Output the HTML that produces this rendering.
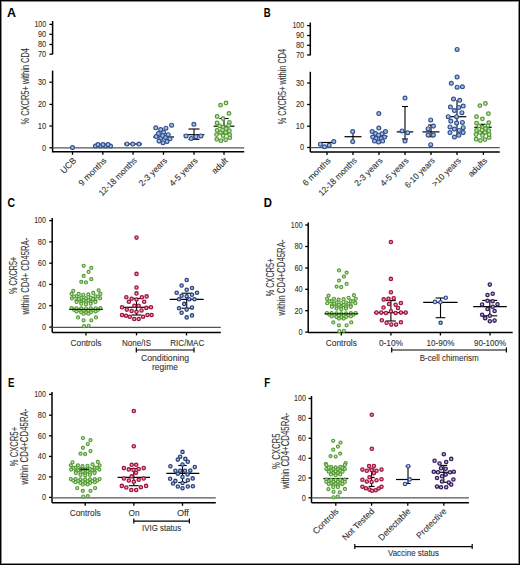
<!DOCTYPE html>
<html><head><meta charset="utf-8"><style>html,body{margin:0;padding:0;background:#fff;width:520px;height:565px;overflow:hidden}svg{display:block}</style></head><body>
<svg width="520" height="565" viewBox="0 0 520 565" font-family="Liberation Sans, sans-serif">
<rect width="520" height="565" fill="#fff"/>
<text x="7.1" y="16.6" font-size="12" fill="#000" font-weight="bold" textLength="9" lengthAdjust="spacingAndGlyphs">A</text>
<line x1="52.6" y1="21" x2="52.6" y2="54.3" stroke="#000" stroke-width="1.5"/>
<line x1="52.6" y1="70.6" x2="52.6" y2="152.4" stroke="#000" stroke-width="1.5"/>
<line x1="49.4" y1="24.4" x2="52.6" y2="24.4" stroke="#000" stroke-width="1.3"/>
<text x="46.2" y="27.2" font-size="9.6" fill="#333333" stroke="#333333" stroke-width="0.1" text-anchor="end" textLength="11.8" lengthAdjust="spacingAndGlyphs">100</text>
<line x1="49.4" y1="34.3" x2="52.6" y2="34.3" stroke="#000" stroke-width="1.3"/>
<text x="46.2" y="37.1" font-size="9.6" fill="#333333" stroke="#333333" stroke-width="0.1" text-anchor="end" textLength="8.2" lengthAdjust="spacingAndGlyphs">90</text>
<line x1="49.4" y1="44.5" x2="52.6" y2="44.5" stroke="#000" stroke-width="1.3"/>
<text x="46.2" y="47.3" font-size="9.6" fill="#333333" stroke="#333333" stroke-width="0.1" text-anchor="end" textLength="8.2" lengthAdjust="spacingAndGlyphs">80</text>
<line x1="49.4" y1="54.2" x2="52.6" y2="54.2" stroke="#000" stroke-width="1.3"/>
<text x="46.2" y="57" font-size="9.6" fill="#333333" stroke="#333333" stroke-width="0.1" text-anchor="end" textLength="8.2" lengthAdjust="spacingAndGlyphs">70</text>
<line x1="49.4" y1="82.2" x2="52.6" y2="82.2" stroke="#000" stroke-width="1.3"/>
<text x="46.2" y="85" font-size="9.6" fill="#333333" stroke="#333333" stroke-width="0.1" text-anchor="end" textLength="8.2" lengthAdjust="spacingAndGlyphs">30</text>
<line x1="49.4" y1="104.4" x2="52.6" y2="104.4" stroke="#000" stroke-width="1.3"/>
<text x="46.2" y="107.2" font-size="9.6" fill="#333333" stroke="#333333" stroke-width="0.1" text-anchor="end" textLength="8.2" lengthAdjust="spacingAndGlyphs">20</text>
<line x1="49.4" y1="126" x2="52.6" y2="126" stroke="#000" stroke-width="1.3"/>
<text x="46.2" y="128.8" font-size="9.6" fill="#333333" stroke="#333333" stroke-width="0.1" text-anchor="end" textLength="8.5" lengthAdjust="spacingAndGlyphs">10</text>
<line x1="49.4" y1="147.8" x2="52.6" y2="147.8" stroke="#000" stroke-width="1.3"/>
<text x="46.2" y="150.6" font-size="9.6" fill="#333333" stroke="#333333" stroke-width="0.1" text-anchor="end" textLength="4.1" lengthAdjust="spacingAndGlyphs">0</text>
<text x="28.5" y="86.25" font-size="10" fill="#333333" stroke="#333333" stroke-width="0.1" text-anchor="middle" textLength="76.5" lengthAdjust="spacingAndGlyphs" transform="rotate(-90 28.5 86.25)">% CXCR5+ within CD4</text>
<line x1="52.6" y1="147.8" x2="244.2" y2="147.8" stroke="#555555" stroke-width="1.25"/>
<line x1="52.6" y1="151.8" x2="244.2" y2="151.8" stroke="#000" stroke-width="1.5"/>
<line x1="72.5" y1="151.8" x2="72.5" y2="154.8" stroke="#000" stroke-width="1.3"/>
<line x1="102.8" y1="151.8" x2="102.8" y2="154.8" stroke="#000" stroke-width="1.3"/>
<line x1="133.1" y1="151.8" x2="133.1" y2="154.8" stroke="#000" stroke-width="1.3"/>
<line x1="163.5" y1="151.8" x2="163.5" y2="154.8" stroke="#000" stroke-width="1.3"/>
<line x1="194" y1="151.8" x2="194" y2="154.8" stroke="#000" stroke-width="1.3"/>
<line x1="224" y1="151.8" x2="224" y2="154.8" stroke="#000" stroke-width="1.3"/>
<text x="76.9" y="161.2" font-size="8.7" fill="#333333" stroke="#333333" stroke-width="0.1" text-anchor="end" transform="rotate(-45 76.9 161.2)">UCB</text>
<text x="107.2" y="161.2" font-size="8.7" fill="#333333" stroke="#333333" stroke-width="0.1" text-anchor="end" transform="rotate(-45 107.2 161.2)">9 months</text>
<text x="137.5" y="161.2" font-size="8.7" fill="#333333" stroke="#333333" stroke-width="0.1" text-anchor="end" textLength="50" lengthAdjust="spacingAndGlyphs" transform="rotate(-45 137.5 161.2)">12-18 months</text>
<text x="167.9" y="161.2" font-size="8.7" fill="#333333" stroke="#333333" stroke-width="0.1" text-anchor="end" transform="rotate(-45 167.9 161.2)">2-3 years</text>
<text x="198.4" y="161.2" font-size="8.7" fill="#333333" stroke="#333333" stroke-width="0.1" text-anchor="end" transform="rotate(-45 198.4 161.2)">4-5 years</text>
<text x="228.4" y="161.2" font-size="8.7" fill="#333333" stroke="#333333" stroke-width="0.1" text-anchor="end" transform="rotate(-45 228.4 161.2)">adult</text>
<line x1="93.3" y1="145.6" x2="112.3" y2="145.6" stroke="#000" stroke-width="1.2"/>
<line x1="124" y1="144" x2="142" y2="144" stroke="#000" stroke-width="1.2"/>
<line x1="153.2" y1="137" x2="174" y2="137" stroke="#000" stroke-width="1.2"/>
<line x1="194" y1="129" x2="194" y2="139.3" stroke="#000" stroke-width="1.1"/>
<line x1="188.5" y1="129" x2="199.5" y2="129" stroke="#000" stroke-width="1.1"/>
<line x1="188.5" y1="139.3" x2="199.5" y2="139.3" stroke="#000" stroke-width="1.1"/>
<line x1="183.7" y1="134.7" x2="204.3" y2="134.7" stroke="#000" stroke-width="1.2"/>
<line x1="224" y1="118.5" x2="224" y2="134" stroke="#000" stroke-width="1.1"/>
<line x1="219.4" y1="118.5" x2="228.6" y2="118.5" stroke="#000" stroke-width="1.1"/>
<line x1="219.4" y1="134" x2="228.6" y2="134" stroke="#000" stroke-width="1.1"/>
<line x1="213.6" y1="126.2" x2="234.4" y2="126.2" stroke="#000" stroke-width="1.2"/>
<text x="263.8" y="16.7" font-size="12" fill="#000" font-weight="bold" textLength="6.9" lengthAdjust="spacingAndGlyphs">B</text>
<line x1="310.3" y1="22.5" x2="310.3" y2="55.3" stroke="#000" stroke-width="1.5"/>
<line x1="310.3" y1="71.8" x2="310.3" y2="152" stroke="#000" stroke-width="1.5"/>
<line x1="307.1" y1="25.6" x2="310.3" y2="25.6" stroke="#000" stroke-width="1.3"/>
<text x="304.2" y="28.4" font-size="9.6" fill="#333333" stroke="#333333" stroke-width="0.1" text-anchor="end" textLength="11.8" lengthAdjust="spacingAndGlyphs">100</text>
<line x1="307.1" y1="35.5" x2="310.3" y2="35.5" stroke="#000" stroke-width="1.3"/>
<text x="304.2" y="38.3" font-size="9.6" fill="#333333" stroke="#333333" stroke-width="0.1" text-anchor="end" textLength="8.2" lengthAdjust="spacingAndGlyphs">90</text>
<line x1="307.1" y1="45.3" x2="310.3" y2="45.3" stroke="#000" stroke-width="1.3"/>
<text x="304.2" y="48.1" font-size="9.6" fill="#333333" stroke="#333333" stroke-width="0.1" text-anchor="end" textLength="8.2" lengthAdjust="spacingAndGlyphs">80</text>
<line x1="307.1" y1="55" x2="310.3" y2="55" stroke="#000" stroke-width="1.3"/>
<text x="304.2" y="57.8" font-size="9.6" fill="#333333" stroke="#333333" stroke-width="0.1" text-anchor="end" textLength="8.2" lengthAdjust="spacingAndGlyphs">70</text>
<line x1="307.1" y1="83" x2="310.3" y2="83" stroke="#000" stroke-width="1.3"/>
<text x="304.2" y="85.8" font-size="9.6" fill="#333333" stroke="#333333" stroke-width="0.1" text-anchor="end" textLength="8.2" lengthAdjust="spacingAndGlyphs">30</text>
<line x1="307.1" y1="104.5" x2="310.3" y2="104.5" stroke="#000" stroke-width="1.3"/>
<text x="304.2" y="107.3" font-size="9.6" fill="#333333" stroke="#333333" stroke-width="0.1" text-anchor="end" textLength="8.2" lengthAdjust="spacingAndGlyphs">20</text>
<line x1="307.1" y1="126.2" x2="310.3" y2="126.2" stroke="#000" stroke-width="1.3"/>
<text x="304.2" y="129" font-size="9.6" fill="#333333" stroke="#333333" stroke-width="0.1" text-anchor="end" textLength="8.5" lengthAdjust="spacingAndGlyphs">10</text>
<line x1="307.1" y1="147.5" x2="310.3" y2="147.5" stroke="#000" stroke-width="1.3"/>
<text x="304.2" y="150.3" font-size="9.6" fill="#333333" stroke="#333333" stroke-width="0.1" text-anchor="end" textLength="4.1" lengthAdjust="spacingAndGlyphs">0</text>
<text x="286.4" y="86.6" font-size="10" fill="#333333" stroke="#333333" stroke-width="0.1" text-anchor="middle" textLength="75.5" lengthAdjust="spacingAndGlyphs" transform="rotate(-90 286.4 86.6)">% CXCR5+ within CD4</text>
<line x1="310.3" y1="147.5" x2="499.8" y2="147.5" stroke="#555555" stroke-width="1.25"/>
<line x1="310.3" y1="151.9" x2="499.8" y2="151.9" stroke="#000" stroke-width="1.5"/>
<line x1="327" y1="151.9" x2="327" y2="154.9" stroke="#000" stroke-width="1.3"/>
<line x1="353" y1="151.9" x2="353" y2="154.9" stroke="#000" stroke-width="1.3"/>
<line x1="379" y1="151.9" x2="379" y2="154.9" stroke="#000" stroke-width="1.3"/>
<line x1="405" y1="151.9" x2="405" y2="154.9" stroke="#000" stroke-width="1.3"/>
<line x1="431" y1="151.9" x2="431" y2="154.9" stroke="#000" stroke-width="1.3"/>
<line x1="457" y1="151.9" x2="457" y2="154.9" stroke="#000" stroke-width="1.3"/>
<line x1="483.4" y1="151.9" x2="483.4" y2="154.9" stroke="#000" stroke-width="1.3"/>
<text x="331.4" y="161.2" font-size="8.7" fill="#333333" stroke="#333333" stroke-width="0.1" text-anchor="end" transform="rotate(-45 331.4 161.2)">6 months</text>
<text x="357.4" y="161.2" font-size="8.7" fill="#333333" stroke="#333333" stroke-width="0.1" text-anchor="end" textLength="50" lengthAdjust="spacingAndGlyphs" transform="rotate(-45 357.4 161.2)">12-18 months</text>
<text x="383.4" y="161.2" font-size="8.7" fill="#333333" stroke="#333333" stroke-width="0.1" text-anchor="end" transform="rotate(-45 383.4 161.2)">2-3 years</text>
<text x="409.4" y="161.2" font-size="8.7" fill="#333333" stroke="#333333" stroke-width="0.1" text-anchor="end" transform="rotate(-45 409.4 161.2)">4-5 years</text>
<text x="435.4" y="161.2" font-size="8.7" fill="#333333" stroke="#333333" stroke-width="0.1" text-anchor="end" textLength="38.5" lengthAdjust="spacingAndGlyphs" transform="rotate(-45 435.4 161.2)">6-10 years</text>
<text x="461.4" y="161.2" font-size="8.7" fill="#333333" stroke="#333333" stroke-width="0.1" text-anchor="end" textLength="36.8" lengthAdjust="spacingAndGlyphs" transform="rotate(-45 461.4 161.2)">&gt;10 years</text>
<text x="487.8" y="161.2" font-size="8.7" fill="#333333" stroke="#333333" stroke-width="0.1" text-anchor="end" transform="rotate(-45 487.8 161.2)">adults</text>
<line x1="321" y1="142.5" x2="333" y2="142.5" stroke="#000" stroke-width="1.2"/>
<line x1="353" y1="131.5" x2="353" y2="141.6" stroke="#000" stroke-width="1.1"/>
<line x1="352.99" y1="131.5" x2="353.01" y2="131.5" stroke="#000" stroke-width="1.1"/>
<line x1="352.99" y1="141.6" x2="353.01" y2="141.6" stroke="#000" stroke-width="1.1"/>
<line x1="344.5" y1="136.7" x2="361.5" y2="136.7" stroke="#000" stroke-width="1.2"/>
<line x1="370.5" y1="136.3" x2="387.5" y2="136.3" stroke="#000" stroke-width="1.2"/>
<line x1="405" y1="106.5" x2="405" y2="139" stroke="#000" stroke-width="1.1"/>
<line x1="402" y1="106.5" x2="408" y2="106.5" stroke="#000" stroke-width="1.1"/>
<line x1="402" y1="139" x2="408" y2="139" stroke="#000" stroke-width="1.1"/>
<line x1="396.7" y1="131.9" x2="413.3" y2="131.9" stroke="#000" stroke-width="1.2"/>
<line x1="431" y1="125" x2="431" y2="136.7" stroke="#000" stroke-width="1.1"/>
<line x1="428" y1="125" x2="434" y2="125" stroke="#000" stroke-width="1.1"/>
<line x1="428" y1="136.7" x2="434" y2="136.7" stroke="#000" stroke-width="1.1"/>
<line x1="422.5" y1="131.9" x2="439.5" y2="131.9" stroke="#000" stroke-width="1.2"/>
<line x1="457" y1="100" x2="457" y2="136" stroke="#000" stroke-width="1.1"/>
<line x1="447.7" y1="116.7" x2="466.3" y2="116.7" stroke="#000" stroke-width="1.2"/>
<line x1="483" y1="124.3" x2="483" y2="134" stroke="#000" stroke-width="1.1"/>
<line x1="480.5" y1="124.3" x2="485.5" y2="124.3" stroke="#000" stroke-width="1.1"/>
<line x1="480.5" y1="134" x2="485.5" y2="134" stroke="#000" stroke-width="1.1"/>
<line x1="474.3" y1="127.3" x2="491.7" y2="127.3" stroke="#000" stroke-width="1.2"/>
<text x="7.5" y="206.6" font-size="12" fill="#000" font-weight="bold" textLength="7.5" lengthAdjust="spacingAndGlyphs">C</text>
<line x1="52.2" y1="218" x2="52.2" y2="332.3" stroke="#000" stroke-width="1.5"/>
<line x1="49.2" y1="220.6" x2="52.2" y2="220.6" stroke="#000" stroke-width="1.3"/>
<text x="46" y="223.4" font-size="9.6" fill="#333333" stroke="#333333" stroke-width="0.1" text-anchor="end" textLength="11.8" lengthAdjust="spacingAndGlyphs">100</text>
<line x1="49.2" y1="241.9" x2="52.2" y2="241.9" stroke="#000" stroke-width="1.3"/>
<text x="46" y="244.7" font-size="9.6" fill="#333333" stroke="#333333" stroke-width="0.1" text-anchor="end" textLength="8.2" lengthAdjust="spacingAndGlyphs">80</text>
<line x1="49.2" y1="263.2" x2="52.2" y2="263.2" stroke="#000" stroke-width="1.3"/>
<text x="46" y="266" font-size="9.6" fill="#333333" stroke="#333333" stroke-width="0.1" text-anchor="end" textLength="8.2" lengthAdjust="spacingAndGlyphs">60</text>
<line x1="49.2" y1="284.4" x2="52.2" y2="284.4" stroke="#000" stroke-width="1.3"/>
<text x="46" y="287.2" font-size="9.6" fill="#333333" stroke="#333333" stroke-width="0.1" text-anchor="end" textLength="8.2" lengthAdjust="spacingAndGlyphs">40</text>
<line x1="49.2" y1="305.7" x2="52.2" y2="305.7" stroke="#000" stroke-width="1.3"/>
<text x="46" y="308.5" font-size="9.6" fill="#333333" stroke="#333333" stroke-width="0.1" text-anchor="end" textLength="8.2" lengthAdjust="spacingAndGlyphs">20</text>
<line x1="49.2" y1="327.1" x2="52.2" y2="327.1" stroke="#000" stroke-width="1.3"/>
<text x="46" y="329.9" font-size="9.6" fill="#333333" stroke="#333333" stroke-width="0.1" text-anchor="end" textLength="4.1" lengthAdjust="spacingAndGlyphs">0</text>
<text x="17.1" y="275.4" font-size="10" fill="#333333" stroke="#333333" stroke-width="0.1" text-anchor="middle" textLength="37" lengthAdjust="spacingAndGlyphs" transform="rotate(-90 17.1 275.4)">% CXCR5+</text>
<text x="28.8" y="276.2" font-size="10" fill="#333333" stroke="#333333" stroke-width="0.1" text-anchor="middle" textLength="76.8" lengthAdjust="spacingAndGlyphs" transform="rotate(-90 28.8 276.2)">within CD4+ CD45RA-</text>
<line x1="52.2" y1="327.3" x2="220.8" y2="327.3" stroke="#555555" stroke-width="1.25"/>
<line x1="52.2" y1="332.4" x2="220.8" y2="332.4" stroke="#000" stroke-width="1.5"/>
<line x1="86" y1="332.4" x2="86" y2="335.4" stroke="#000" stroke-width="1.3"/>
<line x1="136.5" y1="332.4" x2="136.5" y2="335.4" stroke="#000" stroke-width="1.3"/>
<line x1="186.5" y1="332.4" x2="186.5" y2="335.4" stroke="#000" stroke-width="1.3"/>
<text x="86" y="345.6" font-size="8.8" fill="#333333" stroke="#333333" stroke-width="0.1" text-anchor="middle" textLength="31" lengthAdjust="spacingAndGlyphs">Controls</text>
<text x="136.5" y="345.8" font-size="8.8" fill="#333333" stroke="#333333" stroke-width="0.1" text-anchor="middle" textLength="29" lengthAdjust="spacingAndGlyphs">None/IS</text>
<text x="187.3" y="345.8" font-size="8.8" fill="#333333" stroke="#333333" stroke-width="0.1" text-anchor="middle" textLength="34" lengthAdjust="spacingAndGlyphs">RIC/MAC</text>
<line x1="136.3" y1="350" x2="194" y2="350" stroke="#000" stroke-width="1.2"/>
<line x1="136.3" y1="347.5" x2="136.3" y2="352.5" stroke="#000" stroke-width="1.2"/>
<line x1="194" y1="347.5" x2="194" y2="352.5" stroke="#000" stroke-width="1.2"/>
<text x="165" y="361.1" font-size="8.8" fill="#333333" stroke="#333333" stroke-width="0.1" text-anchor="middle" textLength="48" lengthAdjust="spacingAndGlyphs">Conditioning</text>
<text x="165" y="370.2" font-size="8.8" fill="#333333" stroke="#333333" stroke-width="0.1" text-anchor="middle" textLength="26" lengthAdjust="spacingAndGlyphs">regime</text>
<line x1="136.5" y1="298.5" x2="136.5" y2="315" stroke="#000" stroke-width="1.1"/>
<line x1="131.5" y1="298.5" x2="141.5" y2="298.5" stroke="#000" stroke-width="1.1"/>
<line x1="131.5" y1="315" x2="141.5" y2="315" stroke="#000" stroke-width="1.1"/>
<line x1="123.2" y1="307.3" x2="149.8" y2="307.3" stroke="#000" stroke-width="1.2"/>
<line x1="186.7" y1="293.2" x2="186.7" y2="308.2" stroke="#000" stroke-width="1.1"/>
<line x1="181.5" y1="293.2" x2="191.9" y2="293.2" stroke="#000" stroke-width="1.1"/>
<line x1="181.5" y1="308.2" x2="191.9" y2="308.2" stroke="#000" stroke-width="1.1"/>
<line x1="169.7" y1="299.3" x2="203.7" y2="299.3" stroke="#000" stroke-width="1.2"/>
<text x="263.7" y="206.6" font-size="12" fill="#000" font-weight="bold" textLength="8.2" lengthAdjust="spacingAndGlyphs">D</text>
<line x1="308.2" y1="222.5" x2="308.2" y2="332.5" stroke="#000" stroke-width="1.5"/>
<line x1="305.2" y1="225" x2="308.2" y2="225" stroke="#000" stroke-width="1.3"/>
<text x="302.6" y="227.8" font-size="9.6" fill="#333333" stroke="#333333" stroke-width="0.1" text-anchor="end" textLength="11.8" lengthAdjust="spacingAndGlyphs">100</text>
<line x1="305.2" y1="246.5" x2="308.2" y2="246.5" stroke="#000" stroke-width="1.3"/>
<text x="302.6" y="249.3" font-size="9.6" fill="#333333" stroke="#333333" stroke-width="0.1" text-anchor="end" textLength="8.2" lengthAdjust="spacingAndGlyphs">80</text>
<line x1="305.2" y1="268" x2="308.2" y2="268" stroke="#000" stroke-width="1.3"/>
<text x="302.6" y="270.8" font-size="9.6" fill="#333333" stroke="#333333" stroke-width="0.1" text-anchor="end" textLength="8.2" lengthAdjust="spacingAndGlyphs">60</text>
<line x1="305.2" y1="289.3" x2="308.2" y2="289.3" stroke="#000" stroke-width="1.3"/>
<text x="302.6" y="292.1" font-size="9.6" fill="#333333" stroke="#333333" stroke-width="0.1" text-anchor="end" textLength="8.2" lengthAdjust="spacingAndGlyphs">40</text>
<line x1="305.2" y1="310.7" x2="308.2" y2="310.7" stroke="#000" stroke-width="1.3"/>
<text x="302.6" y="313.5" font-size="9.6" fill="#333333" stroke="#333333" stroke-width="0.1" text-anchor="end" textLength="8.2" lengthAdjust="spacingAndGlyphs">20</text>
<line x1="305.2" y1="332.1" x2="308.2" y2="332.1" stroke="#000" stroke-width="1.3"/>
<text x="302.6" y="334.9" font-size="9.6" fill="#333333" stroke="#333333" stroke-width="0.1" text-anchor="end" textLength="4.1" lengthAdjust="spacingAndGlyphs">0</text>
<text x="273.6" y="277.4" font-size="10" fill="#333333" stroke="#333333" stroke-width="0.1" text-anchor="middle" textLength="37.8" lengthAdjust="spacingAndGlyphs" transform="rotate(-90 273.6 277.4)">% CXCR5+</text>
<text x="284.8" y="277.4" font-size="10" fill="#333333" stroke="#333333" stroke-width="0.1" text-anchor="middle" textLength="76" lengthAdjust="spacingAndGlyphs" transform="rotate(-90 284.8 277.4)">within CD4+CD45RA-</text>
<line x1="308.2" y1="332.5" x2="512.7" y2="332.5" stroke="#000" stroke-width="1.5"/>
<line x1="341.3" y1="332.5" x2="341.3" y2="335.5" stroke="#000" stroke-width="1.3"/>
<line x1="390.9" y1="332.5" x2="390.9" y2="335.5" stroke="#000" stroke-width="1.3"/>
<line x1="440.4" y1="332.5" x2="440.4" y2="335.5" stroke="#000" stroke-width="1.3"/>
<line x1="490" y1="332.5" x2="490" y2="335.5" stroke="#000" stroke-width="1.3"/>
<text x="341.3" y="345.5" font-size="8.8" fill="#333333" stroke="#333333" stroke-width="0.1" text-anchor="middle" textLength="31" lengthAdjust="spacingAndGlyphs">Controls</text>
<text x="390.9" y="345.6" font-size="8.8" fill="#333333" stroke="#333333" stroke-width="0.1" text-anchor="middle" textLength="24" lengthAdjust="spacingAndGlyphs">0-10%</text>
<text x="440.4" y="345.6" font-size="8.8" fill="#333333" stroke="#333333" stroke-width="0.1" text-anchor="middle" textLength="28" lengthAdjust="spacingAndGlyphs">10-90%</text>
<text x="490" y="345.6" font-size="8.8" fill="#333333" stroke="#333333" stroke-width="0.1" text-anchor="middle" textLength="32" lengthAdjust="spacingAndGlyphs">90-100%</text>
<line x1="391.7" y1="350" x2="506.4" y2="350" stroke="#000" stroke-width="1.2"/>
<line x1="391.7" y1="347.5" x2="391.7" y2="352.5" stroke="#000" stroke-width="1.2"/>
<line x1="506.4" y1="347.5" x2="506.4" y2="352.5" stroke="#000" stroke-width="1.2"/>
<text x="449.2" y="360.6" font-size="8.8" fill="#333333" stroke="#333333" stroke-width="0.1" text-anchor="middle" textLength="59" lengthAdjust="spacingAndGlyphs">B-cell chimerism</text>
<line x1="390.9" y1="300.6" x2="390.9" y2="321" stroke="#000" stroke-width="1.1"/>
<line x1="385.9" y1="300.6" x2="395.9" y2="300.6" stroke="#000" stroke-width="1.1"/>
<line x1="385.9" y1="321" x2="395.9" y2="321" stroke="#000" stroke-width="1.1"/>
<line x1="373.9" y1="312.6" x2="407.9" y2="312.6" stroke="#000" stroke-width="1.2"/>
<line x1="440.5" y1="298" x2="440.5" y2="317.7" stroke="#000" stroke-width="1.1"/>
<line x1="435.7" y1="298" x2="445.3" y2="298" stroke="#000" stroke-width="1.1"/>
<line x1="435.7" y1="317.7" x2="445.3" y2="317.7" stroke="#000" stroke-width="1.1"/>
<line x1="423.2" y1="302.3" x2="457.6" y2="302.3" stroke="#000" stroke-width="1.2"/>
<line x1="489.8" y1="300.4" x2="489.8" y2="315.8" stroke="#000" stroke-width="1.1"/>
<line x1="482.3" y1="300.4" x2="497.3" y2="300.4" stroke="#000" stroke-width="1.1"/>
<line x1="482.3" y1="315.8" x2="497.3" y2="315.8" stroke="#000" stroke-width="1.1"/>
<line x1="473.2" y1="306.7" x2="506.8" y2="306.7" stroke="#000" stroke-width="1.2"/>
<text x="8" y="387.4" font-size="12" fill="#000" font-weight="bold" textLength="6.4" lengthAdjust="spacingAndGlyphs">E</text>
<line x1="52" y1="392" x2="52" y2="502.7" stroke="#000" stroke-width="1.5"/>
<line x1="49" y1="394.4" x2="52" y2="394.4" stroke="#000" stroke-width="1.3"/>
<text x="46" y="397.2" font-size="9.6" fill="#333333" stroke="#333333" stroke-width="0.1" text-anchor="end" textLength="11.8" lengthAdjust="spacingAndGlyphs">100</text>
<line x1="49" y1="415.2" x2="52" y2="415.2" stroke="#000" stroke-width="1.3"/>
<text x="46" y="418" font-size="9.6" fill="#333333" stroke="#333333" stroke-width="0.1" text-anchor="end" textLength="8.2" lengthAdjust="spacingAndGlyphs">80</text>
<line x1="49" y1="435.8" x2="52" y2="435.8" stroke="#000" stroke-width="1.3"/>
<text x="46" y="438.6" font-size="9.6" fill="#333333" stroke="#333333" stroke-width="0.1" text-anchor="end" textLength="8.2" lengthAdjust="spacingAndGlyphs">60</text>
<line x1="49" y1="456.4" x2="52" y2="456.4" stroke="#000" stroke-width="1.3"/>
<text x="46" y="459.2" font-size="9.6" fill="#333333" stroke="#333333" stroke-width="0.1" text-anchor="end" textLength="8.2" lengthAdjust="spacingAndGlyphs">40</text>
<line x1="49" y1="476.9" x2="52" y2="476.9" stroke="#000" stroke-width="1.3"/>
<text x="46" y="479.7" font-size="9.6" fill="#333333" stroke="#333333" stroke-width="0.1" text-anchor="end" textLength="8.2" lengthAdjust="spacingAndGlyphs">20</text>
<line x1="49" y1="497.4" x2="52" y2="497.4" stroke="#000" stroke-width="1.3"/>
<text x="46" y="500.2" font-size="9.6" fill="#333333" stroke="#333333" stroke-width="0.1" text-anchor="end" textLength="4.1" lengthAdjust="spacingAndGlyphs">0</text>
<text x="17.6" y="446.6" font-size="10" fill="#333333" stroke="#333333" stroke-width="0.1" text-anchor="middle" textLength="39.4" lengthAdjust="spacingAndGlyphs" transform="rotate(-90 17.6 446.6)">% CXCR5+</text>
<text x="28.5" y="446.6" font-size="10" fill="#333333" stroke="#333333" stroke-width="0.1" text-anchor="middle" textLength="76" lengthAdjust="spacingAndGlyphs" transform="rotate(-90 28.5 446.6)">within CD4+CD45RA-</text>
<line x1="52" y1="497.8" x2="215.8" y2="497.8" stroke="#555555" stroke-width="1.25"/>
<line x1="52" y1="502.8" x2="215.8" y2="502.8" stroke="#000" stroke-width="1.5"/>
<line x1="85.2" y1="502.8" x2="85.2" y2="505.8" stroke="#000" stroke-width="1.3"/>
<line x1="133.8" y1="502.8" x2="133.8" y2="505.8" stroke="#000" stroke-width="1.3"/>
<line x1="182.5" y1="502.8" x2="182.5" y2="505.8" stroke="#000" stroke-width="1.3"/>
<text x="85.2" y="515.6" font-size="8.8" fill="#333333" stroke="#333333" stroke-width="0.1" text-anchor="middle" textLength="31" lengthAdjust="spacingAndGlyphs">Controls</text>
<text x="134" y="515.6" font-size="8.8" fill="#333333" stroke="#333333" stroke-width="0.1" text-anchor="middle" textLength="11" lengthAdjust="spacingAndGlyphs">On</text>
<text x="182.9" y="515.6" font-size="8.8" fill="#333333" stroke="#333333" stroke-width="0.1" text-anchor="middle" textLength="12" lengthAdjust="spacingAndGlyphs">Off</text>
<line x1="133.8" y1="521.1" x2="189.4" y2="521.1" stroke="#000" stroke-width="1.2"/>
<line x1="133.8" y1="518.6" x2="133.8" y2="523.6" stroke="#000" stroke-width="1.2"/>
<line x1="189.4" y1="518.6" x2="189.4" y2="523.6" stroke="#000" stroke-width="1.2"/>
<text x="161.6" y="530.7" font-size="8.8" fill="#333333" stroke="#333333" stroke-width="0.1" text-anchor="middle" textLength="39" lengthAdjust="spacingAndGlyphs">IVIG status</text>
<line x1="133.8" y1="468.6" x2="133.8" y2="485.7" stroke="#000" stroke-width="1.1"/>
<line x1="128.8" y1="468.6" x2="138.8" y2="468.6" stroke="#000" stroke-width="1.1"/>
<line x1="128.8" y1="485.7" x2="138.8" y2="485.7" stroke="#000" stroke-width="1.1"/>
<line x1="117.6" y1="477.3" x2="150" y2="477.3" stroke="#000" stroke-width="1.2"/>
<line x1="182.5" y1="465.5" x2="182.5" y2="482.5" stroke="#000" stroke-width="1.1"/>
<line x1="178.2" y1="465.5" x2="186.8" y2="465.5" stroke="#000" stroke-width="1.1"/>
<line x1="178.2" y1="482.5" x2="186.8" y2="482.5" stroke="#000" stroke-width="1.1"/>
<line x1="166.3" y1="473.4" x2="199.3" y2="473.4" stroke="#000" stroke-width="1.2"/>
<text x="264.2" y="387.4" font-size="12" fill="#000" font-weight="bold" textLength="5.9" lengthAdjust="spacingAndGlyphs">F</text>
<line x1="311.5" y1="396" x2="311.5" y2="502.7" stroke="#000" stroke-width="1.5"/>
<line x1="308.5" y1="398.5" x2="311.5" y2="398.5" stroke="#000" stroke-width="1.3"/>
<text x="305.9" y="401.3" font-size="9.6" fill="#333333" stroke="#333333" stroke-width="0.1" text-anchor="end" textLength="11.8" lengthAdjust="spacingAndGlyphs">100</text>
<line x1="308.5" y1="418.4" x2="311.5" y2="418.4" stroke="#000" stroke-width="1.3"/>
<text x="305.9" y="421.2" font-size="9.6" fill="#333333" stroke="#333333" stroke-width="0.1" text-anchor="end" textLength="8.2" lengthAdjust="spacingAndGlyphs">80</text>
<line x1="308.5" y1="438.3" x2="311.5" y2="438.3" stroke="#000" stroke-width="1.3"/>
<text x="305.9" y="441.1" font-size="9.6" fill="#333333" stroke="#333333" stroke-width="0.1" text-anchor="end" textLength="8.2" lengthAdjust="spacingAndGlyphs">60</text>
<line x1="308.5" y1="458.3" x2="311.5" y2="458.3" stroke="#000" stroke-width="1.3"/>
<text x="305.9" y="461.1" font-size="9.6" fill="#333333" stroke="#333333" stroke-width="0.1" text-anchor="end" textLength="8.2" lengthAdjust="spacingAndGlyphs">40</text>
<line x1="308.5" y1="478" x2="311.5" y2="478" stroke="#000" stroke-width="1.3"/>
<text x="305.9" y="480.8" font-size="9.6" fill="#333333" stroke="#333333" stroke-width="0.1" text-anchor="end" textLength="8.2" lengthAdjust="spacingAndGlyphs">20</text>
<line x1="308.5" y1="497.8" x2="311.5" y2="497.8" stroke="#000" stroke-width="1.3"/>
<text x="305.9" y="500.6" font-size="9.6" fill="#333333" stroke="#333333" stroke-width="0.1" text-anchor="end" textLength="4.1" lengthAdjust="spacingAndGlyphs">0</text>
<text x="280" y="451.2" font-size="10" fill="#333333" stroke="#333333" stroke-width="0.1" text-anchor="middle" textLength="35.4" lengthAdjust="spacingAndGlyphs" transform="rotate(-90 280 451.2)">% CXCR5</text>
<text x="289.3" y="450.8" font-size="10" fill="#333333" stroke="#333333" stroke-width="0.1" text-anchor="middle" textLength="76" lengthAdjust="spacingAndGlyphs" transform="rotate(-90 289.3 450.8)">within CD4+CD45RA-</text>
<line x1="311.5" y1="497.9" x2="468.9" y2="497.9" stroke="#555555" stroke-width="1.25"/>
<line x1="311.5" y1="502.7" x2="468.9" y2="502.7" stroke="#000" stroke-width="1.5"/>
<line x1="335.8" y1="502.7" x2="335.8" y2="505.7" stroke="#000" stroke-width="1.3"/>
<line x1="371.6" y1="502.7" x2="371.6" y2="505.7" stroke="#000" stroke-width="1.3"/>
<line x1="407.8" y1="502.7" x2="407.8" y2="505.7" stroke="#000" stroke-width="1.3"/>
<line x1="443.8" y1="502.7" x2="443.8" y2="505.7" stroke="#000" stroke-width="1.3"/>
<text x="339.1" y="511.8" font-size="8.7" fill="#333333" stroke="#333333" stroke-width="0.1" text-anchor="end" transform="rotate(-45 339.1 511.8)">Controls</text>
<text x="374.9" y="511.8" font-size="8.7" fill="#333333" stroke="#333333" stroke-width="0.1" text-anchor="end" transform="rotate(-45 374.9 511.8)">Not Tested</text>
<text x="411.1" y="511.8" font-size="8.7" fill="#333333" stroke="#333333" stroke-width="0.1" text-anchor="end" transform="rotate(-45 411.1 511.8)">Detectable</text>
<text x="447.1" y="511.8" font-size="8.7" fill="#333333" stroke="#333333" stroke-width="0.1" text-anchor="end" transform="rotate(-45 447.1 511.8)">Protective</text>
<line x1="354.8" y1="546.6" x2="472.2" y2="546.6" stroke="#000" stroke-width="1.2"/>
<line x1="354.8" y1="544.1" x2="354.8" y2="549.1" stroke="#000" stroke-width="1.2"/>
<line x1="472.2" y1="544.1" x2="472.2" y2="549.1" stroke="#000" stroke-width="1.2"/>
<text x="413.5" y="556.1" font-size="8.8" fill="#333333" stroke="#333333" stroke-width="0.1" text-anchor="middle" textLength="51" lengthAdjust="spacingAndGlyphs">Vaccine status</text>
<line x1="323.3" y1="478.5" x2="348.3" y2="478.5" stroke="#000" stroke-width="1.2"/>
<line x1="371.6" y1="469" x2="371.6" y2="486.4" stroke="#000" stroke-width="1.1"/>
<line x1="368.6" y1="469" x2="374.6" y2="469" stroke="#000" stroke-width="1.1"/>
<line x1="368.6" y1="486.4" x2="374.6" y2="486.4" stroke="#000" stroke-width="1.1"/>
<line x1="368.6" y1="477.5" x2="374.6" y2="477.5" stroke="#000" stroke-width="1.2"/>
<line x1="408" y1="466.2" x2="408" y2="483.5" stroke="#000" stroke-width="1.1"/>
<line x1="405.5" y1="466.2" x2="410.5" y2="466.2" stroke="#000" stroke-width="1.1"/>
<line x1="405.5" y1="483.5" x2="410.5" y2="483.5" stroke="#000" stroke-width="1.1"/>
<line x1="396" y1="479.5" x2="420" y2="479.5" stroke="#000" stroke-width="1.2"/>
<line x1="443.8" y1="465.4" x2="443.8" y2="482.3" stroke="#000" stroke-width="1.1"/>
<line x1="440.3" y1="465.4" x2="447.3" y2="465.4" stroke="#000" stroke-width="1.1"/>
<line x1="440.3" y1="482.3" x2="447.3" y2="482.3" stroke="#000" stroke-width="1.1"/>
<line x1="431.8" y1="472.3" x2="455.8" y2="472.3" stroke="#000" stroke-width="1.2"/>
<g fill="#a6bce6" stroke="#30508c" stroke-width="1.15"><circle cx="72.5" cy="147.6" r="1.95"/></g>
<g fill="#a6bce6" stroke="#30508c" stroke-width="1.15"><circle cx="95.5" cy="146" r="1.95"/><circle cx="100.5" cy="146" r="1.95"/><circle cx="105.5" cy="146" r="1.95"/><circle cx="110.5" cy="146" r="1.95"/><circle cx="98" cy="144.6" r="1.95"/><circle cx="103" cy="144.6" r="1.95"/><circle cx="108" cy="144.6" r="1.95"/></g>
<g fill="#a6bce6" stroke="#30508c" stroke-width="1.15"><circle cx="127" cy="143.9" r="1.95"/><circle cx="132.8" cy="144" r="1.95"/><circle cx="138.9" cy="144" r="1.95"/></g>
<g fill="#a6bce6" stroke="#30508c" stroke-width="1.15"><circle cx="171.6" cy="125.2" r="1.95"/><circle cx="155.8" cy="127.8" r="1.95"/><circle cx="165.9" cy="128.2" r="1.95"/><circle cx="160.7" cy="129.5" r="1.95"/><circle cx="163.6" cy="132.4" r="1.95"/><circle cx="158.4" cy="133.6" r="1.95"/><circle cx="168.2" cy="134.7" r="1.95"/><circle cx="156.1" cy="136.5" r="1.95"/><circle cx="165.3" cy="137.6" r="1.95"/><circle cx="160.7" cy="138.2" r="1.95"/><circle cx="169.9" cy="138.8" r="1.95"/><circle cx="159" cy="141.1" r="1.95"/><circle cx="167" cy="141.6" r="1.95"/><circle cx="163" cy="142.8" r="1.95"/><circle cx="162.5" cy="135.5" r="1.95"/></g>
<g fill="#a6bce6" stroke="#30508c" stroke-width="1.15"><circle cx="193.9" cy="124.3" r="1.95"/><circle cx="186" cy="135.9" r="1.95"/><circle cx="195.9" cy="136.7" r="1.95"/><circle cx="201" cy="135.9" r="1.95"/><circle cx="191.3" cy="138.5" r="1.95"/></g>
<g fill="#c6e8aa" stroke="#549a38" stroke-width="1.25"><circle cx="220.5" cy="105.18" r="1.8"/><circle cx="226" cy="103.04" r="1.8"/><circle cx="229" cy="113.42" r="1.8"/><circle cx="217.1" cy="116.47" r="1.8"/><circle cx="223" cy="118.61" r="1.8"/><circle cx="217.1" cy="122.98" r="1.8"/><circle cx="229.4" cy="122.47" r="1.8"/><circle cx="219.6" cy="125.93" r="1.8"/><circle cx="223" cy="127.25" r="1.8"/><circle cx="226" cy="128.57" r="1.8"/><circle cx="228.6" cy="125.52" r="1.8"/><circle cx="217.1" cy="130.3" r="1.8"/><circle cx="220.5" cy="132.44" r="1.8"/><circle cx="225.6" cy="132.44" r="1.8"/><circle cx="229.4" cy="130.71" r="1.8"/><circle cx="222.6" cy="129.9" r="1.8"/><circle cx="216.7" cy="139.36" r="1.8"/><circle cx="220.9" cy="140.68" r="1.8"/><circle cx="225.6" cy="139.76" r="1.8"/><circle cx="229.8" cy="137.63" r="1.8"/><circle cx="216.6" cy="134.58" r="1.8"/><circle cx="229.6" cy="134.58" r="1.8"/><circle cx="223.1" cy="135.59" r="1.8"/></g>
<g fill="#a6bce6" stroke="#30508c" stroke-width="1.15"><circle cx="320.4" cy="144.2" r="1.95"/><circle cx="324.5" cy="146.8" r="1.95"/><circle cx="329.2" cy="145.3" r="1.95"/><circle cx="333.8" cy="141.6" r="1.95"/></g>
<g fill="#a6bce6" stroke="#30508c" stroke-width="1.15"><circle cx="352.7" cy="131.5" r="1.95"/><circle cx="352.7" cy="141.6" r="1.95"/></g>
<g fill="#a6bce6" stroke="#30508c" stroke-width="1.15"><circle cx="378.8" cy="113.5" r="1.95"/><circle cx="378.8" cy="128" r="1.95"/><circle cx="372.2" cy="131.5" r="1.95"/><circle cx="385.5" cy="131.5" r="1.95"/><circle cx="375.5" cy="133.5" r="1.95"/><circle cx="382" cy="133.8" r="1.95"/><circle cx="378.6" cy="135.2" r="1.95"/><circle cx="372.8" cy="137" r="1.95"/><circle cx="384.5" cy="137" r="1.95"/><circle cx="376" cy="138.5" r="1.95"/><circle cx="381.3" cy="138.6" r="1.95"/><circle cx="374.5" cy="141" r="1.95"/><circle cx="378.6" cy="142" r="1.95"/><circle cx="382.6" cy="141" r="1.95"/></g>
<g fill="#a6bce6" stroke="#30508c" stroke-width="1.15"><circle cx="405" cy="98" r="1.95"/><circle cx="402.1" cy="130.9" r="1.95"/><circle cx="407.7" cy="132.7" r="1.95"/><circle cx="405" cy="141" r="1.95"/></g>
<g fill="#a6bce6" stroke="#30508c" stroke-width="1.15"><circle cx="430.7" cy="119.9" r="1.95"/><circle cx="433.4" cy="126.1" r="1.95"/><circle cx="428.1" cy="128.7" r="1.95"/><circle cx="428.1" cy="135.1" r="1.95"/><circle cx="433.4" cy="135.1" r="1.95"/><circle cx="430.7" cy="144.7" r="1.95"/></g>
<g fill="#a6bce6" stroke="#30508c" stroke-width="1.15"><circle cx="457.1" cy="49.4" r="1.95"/><circle cx="457.1" cy="77" r="1.95"/><circle cx="451.3" cy="83.3" r="1.95"/><circle cx="457.1" cy="87.2" r="1.95"/><circle cx="462.4" cy="86.8" r="1.95"/><circle cx="453.5" cy="99" r="1.95"/><circle cx="459.7" cy="100.3" r="1.95"/><circle cx="450.4" cy="107" r="1.95"/><circle cx="458.8" cy="107.4" r="1.95"/><circle cx="463.2" cy="106" r="1.95"/><circle cx="454.4" cy="110.5" r="1.95"/><circle cx="461.9" cy="112.7" r="1.95"/><circle cx="448.2" cy="116.7" r="1.95"/><circle cx="456.6" cy="116.7" r="1.95"/><circle cx="450.8" cy="121.1" r="1.95"/><circle cx="456.6" cy="123.1" r="1.95"/><circle cx="462.4" cy="122.4" r="1.95"/><circle cx="450" cy="126.9" r="1.95"/><circle cx="454.4" cy="129.1" r="1.95"/><circle cx="459.3" cy="130.4" r="1.95"/><circle cx="463.2" cy="127.7" r="1.95"/><circle cx="450" cy="132.6" r="1.95"/><circle cx="463.2" cy="132.6" r="1.95"/><circle cx="458.8" cy="135.3" r="1.95"/><circle cx="454.4" cy="137" r="1.95"/></g>
<g fill="#c6e8aa" stroke="#549a38" stroke-width="1.25"><circle cx="479.9" cy="105.6" r="1.8"/><circle cx="485.4" cy="103.5" r="1.8"/><circle cx="488.4" cy="113.7" r="1.8"/><circle cx="476.5" cy="116.7" r="1.8"/><circle cx="482.4" cy="118.8" r="1.8"/><circle cx="476.5" cy="123.1" r="1.8"/><circle cx="488.8" cy="122.6" r="1.8"/><circle cx="479" cy="126" r="1.8"/><circle cx="482.4" cy="127.3" r="1.8"/><circle cx="485.4" cy="128.6" r="1.8"/><circle cx="488" cy="125.6" r="1.8"/><circle cx="476.5" cy="130.3" r="1.8"/><circle cx="479.9" cy="132.4" r="1.8"/><circle cx="485" cy="132.4" r="1.8"/><circle cx="488.8" cy="130.7" r="1.8"/><circle cx="482" cy="129.9" r="1.8"/><circle cx="476.1" cy="139.2" r="1.8"/><circle cx="480.3" cy="140.5" r="1.8"/><circle cx="485" cy="139.6" r="1.8"/><circle cx="489.2" cy="137.5" r="1.8"/><circle cx="476" cy="134.5" r="1.8"/><circle cx="489" cy="134.5" r="1.8"/><circle cx="482.5" cy="135.5" r="1.8"/></g>
<g fill="#c6e8aa" stroke="#549a38" stroke-width="1.15"><circle cx="83.7" cy="265.75" r="1.55"/><circle cx="91.3" cy="267.93" r="1.55"/><circle cx="88.6" cy="271.91" r="1.55"/><circle cx="83.7" cy="275.89" r="1.55"/><circle cx="91.3" cy="279.17" r="1.55"/><circle cx="81.3" cy="281.85" r="1.55"/><circle cx="85.9" cy="282.45" r="1.55"/><circle cx="73.3" cy="290.8" r="1.55"/><circle cx="78.7" cy="293.99" r="1.55"/><circle cx="83.3" cy="294.78" r="1.55"/><circle cx="88.3" cy="294.38" r="1.55"/><circle cx="93.3" cy="292.99" r="1.55"/><circle cx="98.6" cy="290.41" r="1.55"/><circle cx="71.6" cy="293.99" r="1.55"/><circle cx="76.4" cy="296.31" r="1.55"/><circle cx="81.2" cy="297.7" r="1.55"/><circle cx="86" cy="298.16" r="1.55"/><circle cx="90.8" cy="297.7" r="1.55"/><circle cx="95.6" cy="296.31" r="1.55"/><circle cx="100.4" cy="293.99" r="1.55"/><circle cx="74" cy="296.57" r="1.55"/><circle cx="78.8" cy="298.99" r="1.55"/><circle cx="83.6" cy="300.2" r="1.55"/><circle cx="88.4" cy="300.2" r="1.55"/><circle cx="93.2" cy="298.99" r="1.55"/><circle cx="98" cy="296.57" r="1.55"/><circle cx="71.9" cy="298.36" r="1.55"/><circle cx="76.6" cy="300.57" r="1.55"/><circle cx="81.3" cy="301.9" r="1.55"/><circle cx="86" cy="302.34" r="1.55"/><circle cx="90.7" cy="301.9" r="1.55"/><circle cx="95.4" cy="300.57" r="1.55"/><circle cx="100.1" cy="298.36" r="1.55"/><circle cx="76.6" cy="301.94" r="1.55"/><circle cx="81.3" cy="303.73" r="1.55"/><circle cx="86" cy="304.33" r="1.55"/><circle cx="90.7" cy="303.73" r="1.55"/><circle cx="95.4" cy="301.94" r="1.55"/><circle cx="71.6" cy="308.11" r="1.55"/><circle cx="76.4" cy="308.33" r="1.55"/><circle cx="81.2" cy="308.46" r="1.55"/><circle cx="86" cy="308.5" r="1.55"/><circle cx="90.8" cy="308.46" r="1.55"/><circle cx="95.6" cy="308.33" r="1.55"/><circle cx="100.4" cy="308.11" r="1.55"/><circle cx="74" cy="309.7" r="1.55"/><circle cx="78.8" cy="310.21" r="1.55"/><circle cx="83.6" cy="310.46" r="1.55"/><circle cx="88.4" cy="310.46" r="1.55"/><circle cx="93.2" cy="310.21" r="1.55"/><circle cx="98" cy="309.7" r="1.55"/><circle cx="76.4" cy="311.39" r="1.55"/><circle cx="81.2" cy="312.13" r="1.55"/><circle cx="86" cy="312.38" r="1.55"/><circle cx="90.8" cy="312.13" r="1.55"/><circle cx="95.6" cy="311.39" r="1.55"/><circle cx="83.6" cy="313.68" r="1.55"/><circle cx="88.4" cy="313.68" r="1.55"/><circle cx="78" cy="317.45" r="1.55"/><circle cx="83.6" cy="320.34" r="1.55"/><circle cx="91.3" cy="320.34" r="1.55"/><circle cx="95.9" cy="317.45" r="1.55"/><circle cx="84" cy="326.21" r="1.55"/><circle cx="88.6" cy="325.81" r="1.55"/></g>
<line x1="69" y1="309.4" x2="103" y2="309.4" stroke="#000" stroke-width="0.9"/>
<g fill="#f0a2b8" stroke="#a3153c" stroke-width="1.3"><circle cx="136.5" cy="237.6" r="1.65"/><circle cx="136.5" cy="273.9" r="1.65"/><circle cx="136.5" cy="287.5" r="1.65"/><circle cx="136.5" cy="293.4" r="1.65"/><circle cx="126.3" cy="297.3" r="1.65"/><circle cx="131.6" cy="298.7" r="1.65"/><circle cx="136.5" cy="299.6" r="1.65"/><circle cx="141.9" cy="297.3" r="1.65"/><circle cx="146.6" cy="296.4" r="1.65"/><circle cx="128.9" cy="301.7" r="1.65"/><circle cx="144.2" cy="301.7" r="1.65"/><circle cx="134.4" cy="305.8" r="1.65"/><circle cx="138.7" cy="305.8" r="1.65"/><circle cx="122" cy="307.3" r="1.65"/><circle cx="151" cy="307.3" r="1.65"/><circle cx="146.3" cy="307.9" r="1.65"/><circle cx="126.8" cy="309.6" r="1.65"/><circle cx="131.6" cy="311" r="1.65"/><circle cx="136.5" cy="311.8" r="1.65"/><circle cx="141.5" cy="310.5" r="1.65"/><circle cx="122" cy="315" r="1.65"/><circle cx="126" cy="315.8" r="1.65"/><circle cx="129.8" cy="316.7" r="1.65"/><circle cx="134.2" cy="319" r="1.65"/><circle cx="138.7" cy="319" r="1.65"/><circle cx="143.1" cy="316.7" r="1.65"/><circle cx="147.5" cy="315" r="1.65"/><circle cx="151.6" cy="315" r="1.65"/></g>
<g fill="#b4c4ea" stroke="#2d457a" stroke-width="1.3"><circle cx="186.7" cy="280" r="1.65"/><circle cx="181.6" cy="285.5" r="1.65"/><circle cx="186.7" cy="289.7" r="1.65"/><circle cx="192" cy="288" r="1.65"/><circle cx="176.7" cy="292.8" r="1.65"/><circle cx="197" cy="292.8" r="1.65"/><circle cx="181.6" cy="295.8" r="1.65"/><circle cx="186.7" cy="296.3" r="1.65"/><circle cx="192" cy="294.7" r="1.65"/><circle cx="179" cy="299.3" r="1.65"/><circle cx="189.3" cy="299.3" r="1.65"/><circle cx="194.5" cy="299.3" r="1.65"/><circle cx="184.2" cy="303.9" r="1.65"/><circle cx="179" cy="308.2" r="1.65"/><circle cx="186.7" cy="309.6" r="1.65"/><circle cx="192" cy="307.6" r="1.65"/><circle cx="181.6" cy="312.8" r="1.65"/><circle cx="186.7" cy="317.4" r="1.65"/><circle cx="192" cy="315.4" r="1.65"/></g>
<g fill="#c6e8aa" stroke="#549a38" stroke-width="1.15"><circle cx="339" cy="270.4" r="1.55"/><circle cx="346.6" cy="272.6" r="1.55"/><circle cx="343.9" cy="276.6" r="1.55"/><circle cx="339" cy="280.6" r="1.55"/><circle cx="346.6" cy="283.9" r="1.55"/><circle cx="336.6" cy="286.6" r="1.55"/><circle cx="341.2" cy="287.2" r="1.55"/><circle cx="328.6" cy="295.6" r="1.55"/><circle cx="334" cy="298.8" r="1.55"/><circle cx="338.6" cy="299.6" r="1.55"/><circle cx="343.6" cy="299.2" r="1.55"/><circle cx="348.6" cy="297.8" r="1.55"/><circle cx="353.9" cy="295.2" r="1.55"/><circle cx="326.9" cy="298.8" r="1.55"/><circle cx="331.7" cy="301.13" r="1.55"/><circle cx="336.5" cy="302.53" r="1.55"/><circle cx="341.3" cy="303" r="1.55"/><circle cx="346.1" cy="302.53" r="1.55"/><circle cx="350.9" cy="301.13" r="1.55"/><circle cx="355.7" cy="298.8" r="1.55"/><circle cx="329.3" cy="301.4" r="1.55"/><circle cx="334.1" cy="303.83" r="1.55"/><circle cx="338.9" cy="305.05" r="1.55"/><circle cx="343.7" cy="305.05" r="1.55"/><circle cx="348.5" cy="303.83" r="1.55"/><circle cx="353.3" cy="301.4" r="1.55"/><circle cx="327.2" cy="303.2" r="1.55"/><circle cx="331.9" cy="305.42" r="1.55"/><circle cx="336.6" cy="306.76" r="1.55"/><circle cx="341.3" cy="307.2" r="1.55"/><circle cx="346" cy="306.76" r="1.55"/><circle cx="350.7" cy="305.42" r="1.55"/><circle cx="355.4" cy="303.2" r="1.55"/><circle cx="331.9" cy="306.8" r="1.55"/><circle cx="336.6" cy="308.6" r="1.55"/><circle cx="341.3" cy="309.2" r="1.55"/><circle cx="346" cy="308.6" r="1.55"/><circle cx="350.7" cy="306.8" r="1.55"/><circle cx="326.9" cy="313" r="1.55"/><circle cx="331.7" cy="313.22" r="1.55"/><circle cx="336.5" cy="313.36" r="1.55"/><circle cx="341.3" cy="313.4" r="1.55"/><circle cx="346.1" cy="313.36" r="1.55"/><circle cx="350.9" cy="313.22" r="1.55"/><circle cx="355.7" cy="313" r="1.55"/><circle cx="329.3" cy="314.6" r="1.55"/><circle cx="334.1" cy="315.11" r="1.55"/><circle cx="338.9" cy="315.37" r="1.55"/><circle cx="343.7" cy="315.37" r="1.55"/><circle cx="348.5" cy="315.11" r="1.55"/><circle cx="353.3" cy="314.6" r="1.55"/><circle cx="331.7" cy="316.3" r="1.55"/><circle cx="336.5" cy="317.05" r="1.55"/><circle cx="341.3" cy="317.3" r="1.55"/><circle cx="346.1" cy="317.05" r="1.55"/><circle cx="350.9" cy="316.3" r="1.55"/><circle cx="338.9" cy="318.6" r="1.55"/><circle cx="343.7" cy="318.6" r="1.55"/><circle cx="333.3" cy="322.4" r="1.55"/><circle cx="338.9" cy="325.3" r="1.55"/><circle cx="346.6" cy="325.3" r="1.55"/><circle cx="351.2" cy="322.4" r="1.55"/><circle cx="339.3" cy="331.2" r="1.55"/><circle cx="343.9" cy="330.8" r="1.55"/></g>
<line x1="324.3" y1="313.8" x2="358.3" y2="313.8" stroke="#000" stroke-width="0.9"/>
<g fill="#f0a2b8" stroke="#a3153c" stroke-width="1.3"><circle cx="390.9" cy="242" r="1.65"/><circle cx="390.9" cy="278.9" r="1.65"/><circle cx="390.9" cy="292.3" r="1.65"/><circle cx="383.7" cy="299.4" r="1.65"/><circle cx="388.5" cy="298.7" r="1.65"/><circle cx="393.7" cy="298.3" r="1.65"/><circle cx="389" cy="304" r="1.65"/><circle cx="395.6" cy="304.7" r="1.65"/><circle cx="400.9" cy="303" r="1.65"/><circle cx="376.5" cy="312.6" r="1.65"/><circle cx="381.3" cy="312.6" r="1.65"/><circle cx="386" cy="313" r="1.65"/><circle cx="390.9" cy="311.2" r="1.65"/><circle cx="395.6" cy="313" r="1.65"/><circle cx="400.9" cy="312.6" r="1.65"/><circle cx="405.7" cy="312.6" r="1.65"/><circle cx="383.5" cy="307.5" r="1.65"/><circle cx="398" cy="308" r="1.65"/><circle cx="381.8" cy="320.3" r="1.65"/><circle cx="386.6" cy="322.7" r="1.65"/><circle cx="391.3" cy="324.6" r="1.65"/><circle cx="396.1" cy="324.6" r="1.65"/><circle cx="400.9" cy="322.2" r="1.65"/></g>
<g fill="#e8ecf8" stroke="#3a4d9a" stroke-width="1.3"><circle cx="435" cy="301.9" r="1.65"/><circle cx="440.4" cy="302.3" r="1.65"/><circle cx="445.8" cy="297.7" r="1.65"/></g>
<g fill="#b4c4ea" stroke="#2d457a" stroke-width="1.3"><circle cx="440.6" cy="322.7" r="1.65"/></g>
<g fill="#c4b2e4" stroke="#36205e" stroke-width="1.3"><circle cx="489.8" cy="284.6" r="1.65"/><circle cx="487.5" cy="295" r="1.65"/><circle cx="492.7" cy="293.7" r="1.65"/><circle cx="487.5" cy="300.8" r="1.65"/><circle cx="492.7" cy="301.3" r="1.65"/><circle cx="482.1" cy="304.6" r="1.65"/><circle cx="497.5" cy="304.2" r="1.65"/><circle cx="492.7" cy="306.7" r="1.65"/><circle cx="487.5" cy="309" r="1.65"/><circle cx="494.6" cy="311" r="1.65"/><circle cx="482.1" cy="314.8" r="1.65"/><circle cx="485" cy="317.7" r="1.65"/><circle cx="489.8" cy="315.8" r="1.65"/><circle cx="489.8" cy="321.2" r="1.65"/><circle cx="494.6" cy="320.6" r="1.65"/><circle cx="485.2" cy="318.2" r="1.65"/></g>
<g fill="#c6e8aa" stroke="#549a38" stroke-width="1.15"><circle cx="82.9" cy="438.06" r="1.55"/><circle cx="90.5" cy="440.18" r="1.55"/><circle cx="87.8" cy="444.02" r="1.55"/><circle cx="82.9" cy="447.87" r="1.55"/><circle cx="90.5" cy="451.05" r="1.55"/><circle cx="80.5" cy="453.64" r="1.55"/><circle cx="85.1" cy="454.22" r="1.55"/><circle cx="72.5" cy="462.3" r="1.55"/><circle cx="77.9" cy="465.37" r="1.55"/><circle cx="82.5" cy="466.14" r="1.55"/><circle cx="87.5" cy="465.76" r="1.55"/><circle cx="92.5" cy="464.41" r="1.55"/><circle cx="97.8" cy="461.91" r="1.55"/><circle cx="70.8" cy="465.37" r="1.55"/><circle cx="75.6" cy="467.62" r="1.55"/><circle cx="80.4" cy="468.97" r="1.55"/><circle cx="85.2" cy="469.41" r="1.55"/><circle cx="90" cy="468.97" r="1.55"/><circle cx="94.8" cy="467.62" r="1.55"/><circle cx="99.6" cy="465.37" r="1.55"/><circle cx="73.2" cy="467.88" r="1.55"/><circle cx="78" cy="470.21" r="1.55"/><circle cx="82.8" cy="471.38" r="1.55"/><circle cx="87.6" cy="471.38" r="1.55"/><circle cx="92.4" cy="470.21" r="1.55"/><circle cx="97.2" cy="467.88" r="1.55"/><circle cx="71.1" cy="469.61" r="1.55"/><circle cx="75.8" cy="471.74" r="1.55"/><circle cx="80.5" cy="473.03" r="1.55"/><circle cx="85.2" cy="473.45" r="1.55"/><circle cx="89.9" cy="473.03" r="1.55"/><circle cx="94.6" cy="471.74" r="1.55"/><circle cx="99.3" cy="469.61" r="1.55"/><circle cx="75.8" cy="473.07" r="1.55"/><circle cx="80.5" cy="474.8" r="1.55"/><circle cx="85.2" cy="475.38" r="1.55"/><circle cx="89.9" cy="474.8" r="1.55"/><circle cx="94.6" cy="473.07" r="1.55"/><circle cx="70.8" cy="479.03" r="1.55"/><circle cx="75.6" cy="479.24" r="1.55"/><circle cx="80.4" cy="479.37" r="1.55"/><circle cx="85.2" cy="479.42" r="1.55"/><circle cx="90" cy="479.37" r="1.55"/><circle cx="94.8" cy="479.24" r="1.55"/><circle cx="99.6" cy="479.03" r="1.55"/><circle cx="73.2" cy="480.57" r="1.55"/><circle cx="78" cy="481.06" r="1.55"/><circle cx="82.8" cy="481.31" r="1.55"/><circle cx="87.6" cy="481.31" r="1.55"/><circle cx="92.4" cy="481.06" r="1.55"/><circle cx="97.2" cy="480.57" r="1.55"/><circle cx="75.6" cy="482.2" r="1.55"/><circle cx="80.4" cy="482.93" r="1.55"/><circle cx="85.2" cy="483.17" r="1.55"/><circle cx="90" cy="482.93" r="1.55"/><circle cx="94.8" cy="482.2" r="1.55"/><circle cx="82.8" cy="484.42" r="1.55"/><circle cx="87.6" cy="484.42" r="1.55"/><circle cx="77.2" cy="488.07" r="1.55"/><circle cx="82.8" cy="490.86" r="1.55"/><circle cx="90.5" cy="490.86" r="1.55"/><circle cx="95.1" cy="488.07" r="1.55"/><circle cx="83.2" cy="496.53" r="1.55"/><circle cx="87.8" cy="496.15" r="1.55"/></g>
<line x1="79.7" y1="469.2" x2="88.7" y2="469.2" stroke="#000" stroke-width="1.1"/>
<g fill="#f0a2b8" stroke="#a3153c" stroke-width="1.3"><circle cx="133.8" cy="411" r="1.65"/><circle cx="133.8" cy="446.3" r="1.65"/><circle cx="131.7" cy="464.7" r="1.65"/><circle cx="136.2" cy="464.7" r="1.65"/><circle cx="123.9" cy="468.1" r="1.65"/><circle cx="128.8" cy="469.4" r="1.65"/><circle cx="133.5" cy="469.9" r="1.65"/><circle cx="138.7" cy="469" r="1.65"/><circle cx="143.7" cy="468.1" r="1.65"/><circle cx="136" cy="472.7" r="1.65"/><circle cx="131.7" cy="476.4" r="1.65"/><circle cx="123.9" cy="478.5" r="1.65"/><circle cx="128.8" cy="480.5" r="1.65"/><circle cx="133.8" cy="481.7" r="1.65"/><circle cx="138.7" cy="479.8" r="1.65"/><circle cx="143.7" cy="478.5" r="1.65"/><circle cx="121.8" cy="485.9" r="1.65"/><circle cx="126.3" cy="487.5" r="1.65"/><circle cx="131.3" cy="490" r="1.65"/><circle cx="136.2" cy="490" r="1.65"/><circle cx="140.9" cy="487.2" r="1.65"/><circle cx="146.1" cy="485.9" r="1.65"/></g>
<g fill="#b4c4ea" stroke="#2d457a" stroke-width="1.3"><circle cx="182.5" cy="451.9" r="1.65"/><circle cx="180.2" cy="456.8" r="1.65"/><circle cx="177.8" cy="459.6" r="1.65"/><circle cx="185.3" cy="458.9" r="1.65"/><circle cx="187.8" cy="461.8" r="1.65"/><circle cx="182.5" cy="464.6" r="1.65"/><circle cx="170.4" cy="466.3" r="1.65"/><circle cx="194.8" cy="467.1" r="1.65"/><circle cx="175.4" cy="470.8" r="1.65"/><circle cx="180.2" cy="470.8" r="1.65"/><circle cx="185" cy="470.8" r="1.65"/><circle cx="190.3" cy="470.6" r="1.65"/><circle cx="177.8" cy="473.8" r="1.65"/><circle cx="187.6" cy="474.5" r="1.65"/><circle cx="182.5" cy="477" r="1.65"/><circle cx="170.1" cy="478.7" r="1.65"/><circle cx="175.4" cy="480.9" r="1.65"/><circle cx="187.8" cy="480.3" r="1.65"/><circle cx="192.7" cy="478.4" r="1.65"/><circle cx="173" cy="483.5" r="1.65"/><circle cx="182.5" cy="483" r="1.65"/><circle cx="177.8" cy="486.5" r="1.65"/><circle cx="182.5" cy="488.3" r="1.65"/><circle cx="187.8" cy="486.5" r="1.65"/><circle cx="192.9" cy="486.2" r="1.65"/></g>
<g fill="#c6e8aa" stroke="#549a38" stroke-width="1.15"><circle cx="333.2" cy="440.8" r="1.55"/><circle cx="340.5" cy="442.5" r="1.55"/><circle cx="337.9" cy="446.6" r="1.55"/><circle cx="333.2" cy="449.7" r="1.55"/><circle cx="340.2" cy="453.6" r="1.55"/><circle cx="330.5" cy="456.1" r="1.55"/><circle cx="335.6" cy="456.5" r="1.55"/><circle cx="325.8" cy="463.8" r="1.55"/><circle cx="345.6" cy="463.1" r="1.55"/><circle cx="326.4" cy="465" r="1.55"/><circle cx="331" cy="466.8" r="1.55"/><circle cx="335.6" cy="467.4" r="1.55"/><circle cx="340.2" cy="466.8" r="1.55"/><circle cx="344.8" cy="465" r="1.55"/><circle cx="328.7" cy="467.7" r="1.55"/><circle cx="333.3" cy="469.12" r="1.55"/><circle cx="337.9" cy="469.12" r="1.55"/><circle cx="342.5" cy="467.7" r="1.55"/><circle cx="326.4" cy="469.1" r="1.55"/><circle cx="331" cy="470.75" r="1.55"/><circle cx="335.6" cy="471.3" r="1.55"/><circle cx="340.2" cy="470.75" r="1.55"/><circle cx="344.8" cy="469.1" r="1.55"/><circle cx="328.7" cy="471.7" r="1.55"/><circle cx="333.3" cy="473.12" r="1.55"/><circle cx="337.9" cy="473.12" r="1.55"/><circle cx="342.5" cy="471.7" r="1.55"/><circle cx="331" cy="474.4" r="1.55"/><circle cx="335.6" cy="475.2" r="1.55"/><circle cx="340.2" cy="474.4" r="1.55"/><circle cx="326.4" cy="479.6" r="1.55"/><circle cx="331" cy="479.9" r="1.55"/><circle cx="335.6" cy="480" r="1.55"/><circle cx="340.2" cy="479.9" r="1.55"/><circle cx="344.8" cy="479.6" r="1.55"/><circle cx="328.7" cy="481.1" r="1.55"/><circle cx="333.3" cy="481.81" r="1.55"/><circle cx="337.9" cy="481.81" r="1.55"/><circle cx="342.5" cy="481.1" r="1.55"/><circle cx="326.4" cy="481.9" r="1.55"/><circle cx="331" cy="483.25" r="1.55"/><circle cx="335.6" cy="483.7" r="1.55"/><circle cx="340.2" cy="483.25" r="1.55"/><circle cx="344.8" cy="481.9" r="1.55"/><circle cx="328.7" cy="484" r="1.55"/><circle cx="333.3" cy="485.24" r="1.55"/><circle cx="337.9" cy="485.24" r="1.55"/><circle cx="342.5" cy="484" r="1.55"/><circle cx="333.3" cy="487" r="1.55"/><circle cx="337.9" cy="487" r="1.55"/><circle cx="328.4" cy="489.2" r="1.55"/><circle cx="344.9" cy="488.9" r="1.55"/><circle cx="333.5" cy="491.8" r="1.55"/><circle cx="339.8" cy="492.4" r="1.55"/><circle cx="333.5" cy="497.3" r="1.55"/><circle cx="337.7" cy="496.5" r="1.55"/></g>
<g fill="#f0a2b8" stroke="#a3153c" stroke-width="1.3"><circle cx="371.8" cy="414.7" r="1.65"/><circle cx="371.8" cy="448.7" r="1.65"/><circle cx="369.1" cy="466" r="1.65"/><circle cx="373.9" cy="466" r="1.65"/><circle cx="362.4" cy="469.6" r="1.65"/><circle cx="366.8" cy="470.8" r="1.65"/><circle cx="371.6" cy="470.1" r="1.65"/><circle cx="376.5" cy="470.8" r="1.65"/><circle cx="381.5" cy="469.6" r="1.65"/><circle cx="373.9" cy="473.1" r="1.65"/><circle cx="369.5" cy="477.2" r="1.65"/><circle cx="362.4" cy="479.7" r="1.65"/><circle cx="366.8" cy="481.5" r="1.65"/><circle cx="371.6" cy="482" r="1.65"/><circle cx="376.5" cy="480.2" r="1.65"/><circle cx="381.5" cy="479.3" r="1.65"/><circle cx="362.4" cy="486.8" r="1.65"/><circle cx="365.9" cy="488.2" r="1.65"/><circle cx="369.5" cy="489.6" r="1.65"/><circle cx="372.1" cy="490.8" r="1.65"/><circle cx="375.7" cy="490.3" r="1.65"/><circle cx="378.7" cy="488.5" r="1.65"/><circle cx="381.5" cy="486.8" r="1.65"/></g>
<g fill="#e8ecf8" stroke="#3a4d9a" stroke-width="1.3"><circle cx="408.2" cy="466.2" r="1.65"/><circle cx="409.7" cy="479.4" r="1.65"/><circle cx="405" cy="484" r="1.65"/></g>
<g fill="#c4b2e4" stroke="#36205e" stroke-width="1.3"><circle cx="443.8" cy="454.3" r="1.65"/><circle cx="434.6" cy="460.8" r="1.65"/><circle cx="451.2" cy="458.9" r="1.65"/><circle cx="439.5" cy="463.5" r="1.65"/><circle cx="446.2" cy="462" r="1.65"/><circle cx="441" cy="468.2" r="1.65"/><circle cx="445.7" cy="468.8" r="1.65"/><circle cx="433.8" cy="471.8" r="1.65"/><circle cx="438" cy="472.3" r="1.65"/><circle cx="450" cy="472.3" r="1.65"/><circle cx="453.8" cy="471.8" r="1.65"/><circle cx="442" cy="476.2" r="1.65"/><circle cx="445.7" cy="474.6" r="1.65"/><circle cx="437" cy="478" r="1.65"/><circle cx="453.4" cy="479.5" r="1.65"/><circle cx="442" cy="481.5" r="1.65"/><circle cx="448.8" cy="482.6" r="1.65"/><circle cx="451.2" cy="484.6" r="1.65"/><circle cx="437" cy="486.6" r="1.65"/><circle cx="441" cy="487.2" r="1.65"/><circle cx="446.2" cy="487.2" r="1.65"/></g>
<rect x="1.5" y="1.5" width="517" height="562" fill="none" stroke="#8a8a8a" stroke-width="1"/>
<rect x="0.5" y="0.5" width="519" height="564" fill="none" stroke="#000" stroke-width="1"/>
</svg>
</body></html>
